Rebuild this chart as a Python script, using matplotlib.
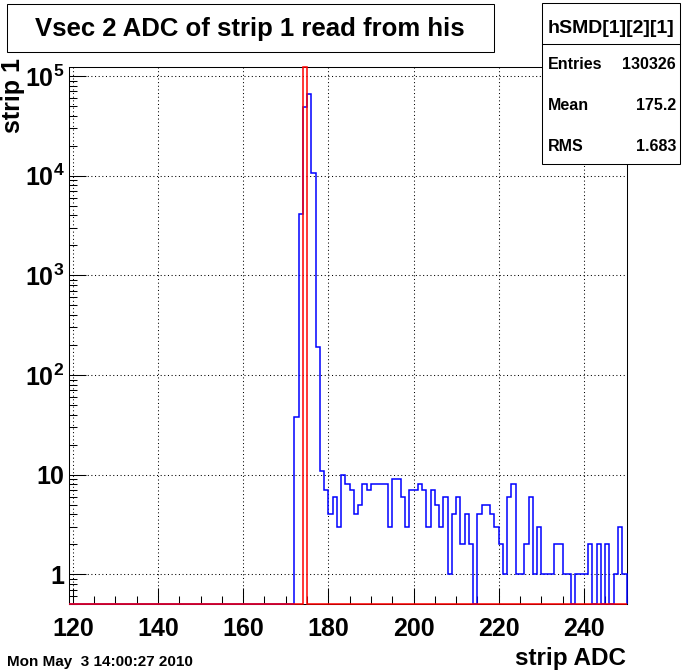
import numpy as np
import matplotlib
matplotlib.use("Agg")
import matplotlib.pyplot as plt
from matplotlib.ticker import MultipleLocator, LogLocator, FuncFormatter, NullFormatter
from matplotlib.patches import Rectangle
from matplotlib.lines import Line2D

plt.rcParams['font.family'] = ['Liberation Sans', 'DejaVu Sans']
plt.rcParams['font.weight'] = 'bold'
plt.rcParams['mathtext.fontset'] = 'custom'
plt.rcParams['mathtext.rm'] = 'Liberation Sans:bold'
plt.rcParams['mathtext.bf'] = 'Liberation Sans:bold'
plt.rcParams['mathtext.it'] = 'Liberation Sans:bold'

# --- histogram contents (1 ADC per bin) ---
x_lo, x_hi = 119, 250
first_bin = 171          # bins below this one are empty
counts = [0, 38, 4120, 49000, 66700, 10640, 190, 11, 7, 4,          # 171-180
          6, 3, 10, 8, 7, 4, 5, 8, 7, 8,                            # 181-190
          8, 8, 8, 3, 9, 9, 6, 3, 7, 7,                             # 191-200
          8, 7, 3, 7, 5, 3, 6, 1, 4, 6,                             # 201-210
          2, 4, 2, 0, 4, 5, 5, 4, 3, 2,                             # 211-220
          1, 6, 8, 1, 1, 2, 6, 1, 3, 1,                             # 221-230
          1, 1, 2, 2, 1, 1, 0, 1, 1, 1,                             # 231-240
          2, 0, 2, 0, 2, 0, 1, 3, 1]                                # 241-249

# reference (pedestal) histogram drawn in red: one overflowing bin
ped_bin = 174
ped_count = 2.0e5

y_lo, y_hi = 0.5, 1.24e5

title = "Vsec 2 ADC of strip 1 read from his"
stats_name = "hSMD[1][2][1]"
stats_labels = ["Entries", "Mean", "RMS"]
stats_values = ["130326", "175.2", "1.683"]
date_text = "Mon May  3 14:00:27 2010"

W, H = 696, 672


def fx(px):
    return px / W


def fy(py):
    return 1 - py / H


fig = plt.figure(figsize=(W / 100, H / 100), dpi=100)
ax = fig.add_axes([fx(68.5), fy(604.3), (626.5 - 68.5) / W, (604.3 - 66.7) / H])

edges = np.arange(x_lo, x_hi + 1)
vals = np.zeros(len(edges) - 1)
vals[first_bin - x_lo:first_bin - x_lo + len(counts)] = counts
ref = np.zeros(len(edges) - 1)
ref[ped_bin - x_lo] = ped_count

ax.stairs(np.clip(vals, y_lo, y_hi), edges, baseline=y_lo, color='blue',
          lw=1.1, clip_on=False, zorder=3)
ax.stairs(np.clip(ref, y_lo, y_hi), edges, baseline=y_lo, color='red',
          lw=1.1, clip_on=False, zorder=4)

ax.set_xlim(x_lo, x_hi)
ax.set_yscale('log')
ax.set_ylim(y_lo, y_hi)

ax.xaxis.set_major_locator(MultipleLocator(20))
ax.xaxis.set_minor_locator(MultipleLocator(5))
ax.yaxis.set_major_locator(LogLocator(base=10, numticks=20))
ax.yaxis.set_minor_locator(LogLocator(base=10, subs=np.arange(2, 10), numticks=40))
ax.yaxis.set_minor_formatter(NullFormatter())


def log_label(v, pos):
    e = int(round(np.log10(v)))
    if e == 0:
        return "1"
    if e == 1:
        return "10"
    return r"$10^{%d}$" % e


ax.yaxis.set_major_formatter(FuncFormatter(log_label))

ax.tick_params(axis='x', which='major', direction='in', length=11.5, width=0.75,
               labelsize=18, pad=9, top=False)
ax.tick_params(axis='x', which='minor', direction='in', length=5.8, width=0.75, top=False)
ax.tick_params(axis='y', which='major', direction='in', length=12.2, width=0.75,
               labelsize=18, pad=3, right=False)
ax.tick_params(axis='y', which='minor', direction='in', length=6, width=0.75, right=False)

ax.grid(True, which='major', color='black', linestyle=(0, (1, 2.5)), linewidth=0.75)
ax.set_axisbelow(True)
for s in ax.spines.values():
    s.set_linewidth(0.75)

# axis titles
fig.text(fx(626), fy(665), "strip ADC", ha='right', va='baseline', fontsize=17.5)
fig.text(fx(13), fy(58), "strip 1", ha='center', va='top', rotation=90, fontsize=18)

# title box
fig.add_artist(Rectangle((fx(6.7), fy(52)), (494 - 6.7) / W, (52 - 4.4) / H,
                         transform=fig.transFigure, facecolor='white',
                         edgecolor='black', lw=0.75, zorder=5))
fig.text(fx(250), fy(36.4), title, ha='center', va='baseline', fontsize=18.5, zorder=6)

# stats box
bx0, bx1, by0, by1 = 542, 680, 3.3, 164.3
fig.add_artist(Rectangle((fx(bx0), fy(by1)), (bx1 - bx0) / W, (by1 - by0) / H,
                         transform=fig.transFigure, facecolor='white',
                         edgecolor='black', lw=0.75, zorder=5))
fig.add_artist(Line2D([fx(bx0), fx(bx1)], [fy(44.3), fy(44.3)],
                      transform=fig.transFigure, color='black', lw=0.75, zorder=6))
fig.text(fx((bx0 + bx1) / 2), fy(33.3), stats_name, ha='center', va='baseline',
         fontsize=14, zorder=7)
for i, (lab, val) in enumerate(zip(stats_labels, stats_values)):
    yb = 69 + 41 * i
    fig.text(fx(548), fy(yb), lab, ha='left', va='baseline', fontsize=11.5, zorder=7)
    fig.text(fx(676), fy(yb), val, ha='right', va='baseline', fontsize=11.5, zorder=7)

fig.text(fx(6.7), fy(666), date_text, ha='left', va='baseline', fontsize=11)

fig.savefig("out.png", dpi=100)
